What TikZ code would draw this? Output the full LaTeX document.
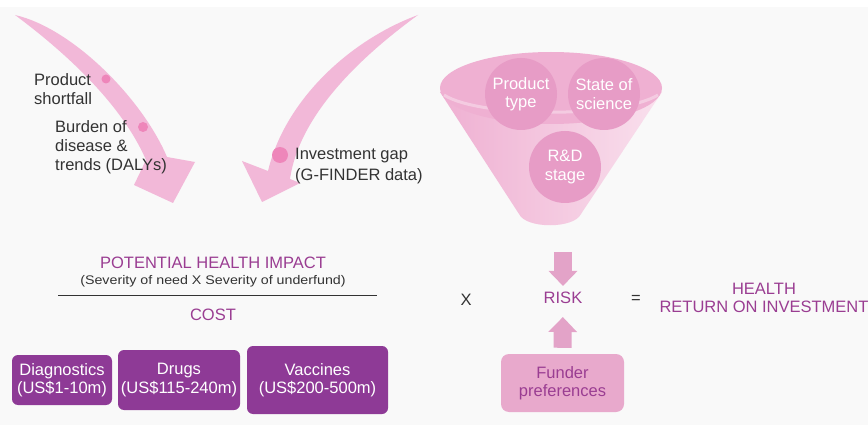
\documentclass[tikz,border=0pt]{standalone}
\usepackage{fontspec}
\setmainfont{Liberation Sans}
\usetikzlibrary{arrows.meta,shapes.geometric}
\definecolor{bg}{HTML}{F9F9F9}
\definecolor{arrowpink}{HTML}{F2B8D8}
\definecolor{dotpink}{HTML}{EE86BA}
\definecolor{funnelpink}{HTML}{EFB0D2}
\definecolor{funnellight}{HTML}{F9E0ED}
\definecolor{circlepink}{HTML}{E79CC6}
\definecolor{boxpurple}{HTML}{8E3A96}
\definecolor{txtpurple}{HTML}{9A3D92}
\definecolor{funderpink}{HTML}{E8A9CC}
\definecolor{riskarrow}{HTML}{E3A3C8}
\definecolor{darktxt}{HTML}{333333}
\begin{document}
\begin{tikzpicture}[x=1pt,y=-1pt,
  base/.style={inner sep=0pt, font=\fontsize{16.5}{18.5}\selectfont},
  lbl/.style={base, text=darktxt, align=left, anchor=west},
  circ/.style={base, circle, fill=circlepink, minimum size=72pt, text=white, align=center},
  costbox/.style={base, rounded corners=6pt, fill=boxpurple, text=white, align=center},
  ptxt/.style={base, text=txtpurple, align=center},
  blockarr/.style={line width=18pt, draw=riskarrow, -{Triangle[width=28pt,length=15pt]}},
  dot/.style={circle, fill=dotpink, inner sep=0pt}
]
\useasboundingbox (0,0) rectangle (868,425);
\fill[white] (0,0) rectangle (868,425);
\fill[bg] (0,7) rectangle (868,425);

% big curved arrows
\fill[arrowpink] (15,15) .. controls (72,28) and (142,98) .. (167,157)
  -- (195,162) -- (173,203) -- (134,185) -- (146,160)
  .. controls (120,100) and (58,47) .. (15,15) -- cycle;
\fill[arrowpink] (418,15) .. controls (350,40) and (285,100) .. (268,171)
  -- (242,161) -- (262,202) -- (300,183) -- (290,179)
  .. controls (300,110) and (370,50) .. (418,15) -- cycle;

% dots
\node[dot, minimum size=9pt] (d1) at (106,79) {};
\node[dot, minimum size=10pt] (d2) at (143,127) {};
\node[dot, minimum size=16pt] (d3) at (280,155) {};

% left labels
\node[lbl] (l1) at (34,89) {Product\\shortfall};
\node[lbl, font=\fontsize{16.5}{19}\selectfont] (l2) at (55,147) {Burden of\\disease \&\\trends (DALYs)};
\node[lbl, font=\fontsize{16.5}{21}\selectfont] (l3) at (295,166) {Investment gap\\(G-FINDER data)};

% funnel
\shade[left color=funnelpink, right color=funnellight]
  (440,92) -- (519,214) .. controls (526,229) and (574,229) .. (581,214) -- (662,92) -- cycle;
\fill[funnelpink] (551,88) ellipse [x radius=111, y radius=36];
\draw[white, opacity=0.35, line width=3pt] (444,95) .. controls (480,118) and (620,118) .. (658,95);
\node[circ] (ptype) at (521,94) {Product\\type};
\node[circ] (sci) at (604,94) {State of\\science};
\node[circ] (rd) at (565,167) {R\&D\\stage};

% fraction
\node[ptxt] (phi) at (213,263) {POTENTIAL HEALTH IMPACT};
\node[base, text=darktxt, font=\fontsize{12.5}{14}\selectfont] (sev) at (213,281) {\scalebox{1.14}[1]{(Severity of need X Severity of underfund)}};
\coordinate (fl) at (58,295);
\coordinate (fr) at (377,295);
\draw[darktxt, line width=1pt] (fl) -- (fr);
\node[ptxt] (cost) at (213,315) {COST};

% cost boxes
\node[costbox, minimum width=100pt, minimum height=50pt] (diag) at (62,380) {Diagnostics\\(US\$1-10m)};
\node[costbox, minimum width=122pt, minimum height=60pt] (drugs) at (179,380) {Drugs\\(US\$115-240m)};
\node[costbox, minimum width=141pt, minimum height=68pt] (vacc) at (317.5,380) {Vaccines\\(US\$200-500m)};

% risk
\node[base, text=darktxt] (times) at (466,300) {X};
\node[ptxt] (risk) at (563,298) {RISK};
\node[base, text=darktxt] (eq) at (636,299) {=};
\node[ptxt] (roi) at (764,298) {HEALTH\\RETURN ON INVESTMENT};
\node[base, rounded corners=8pt, fill=funderpink, text=txtpurple, align=center,
  minimum width=123pt, minimum height=58pt] (funder) at (562.5,383) {Funder\\preferences};

\coordinate (dtop) at (563,252);
\draw[blockarr, shorten >=6pt] (dtop) -- (risk.north);
\draw[blockarr, shorten <=6pt, shorten >=13pt] (funder.north) -- (risk.south);
\end{tikzpicture}
\end{document}
